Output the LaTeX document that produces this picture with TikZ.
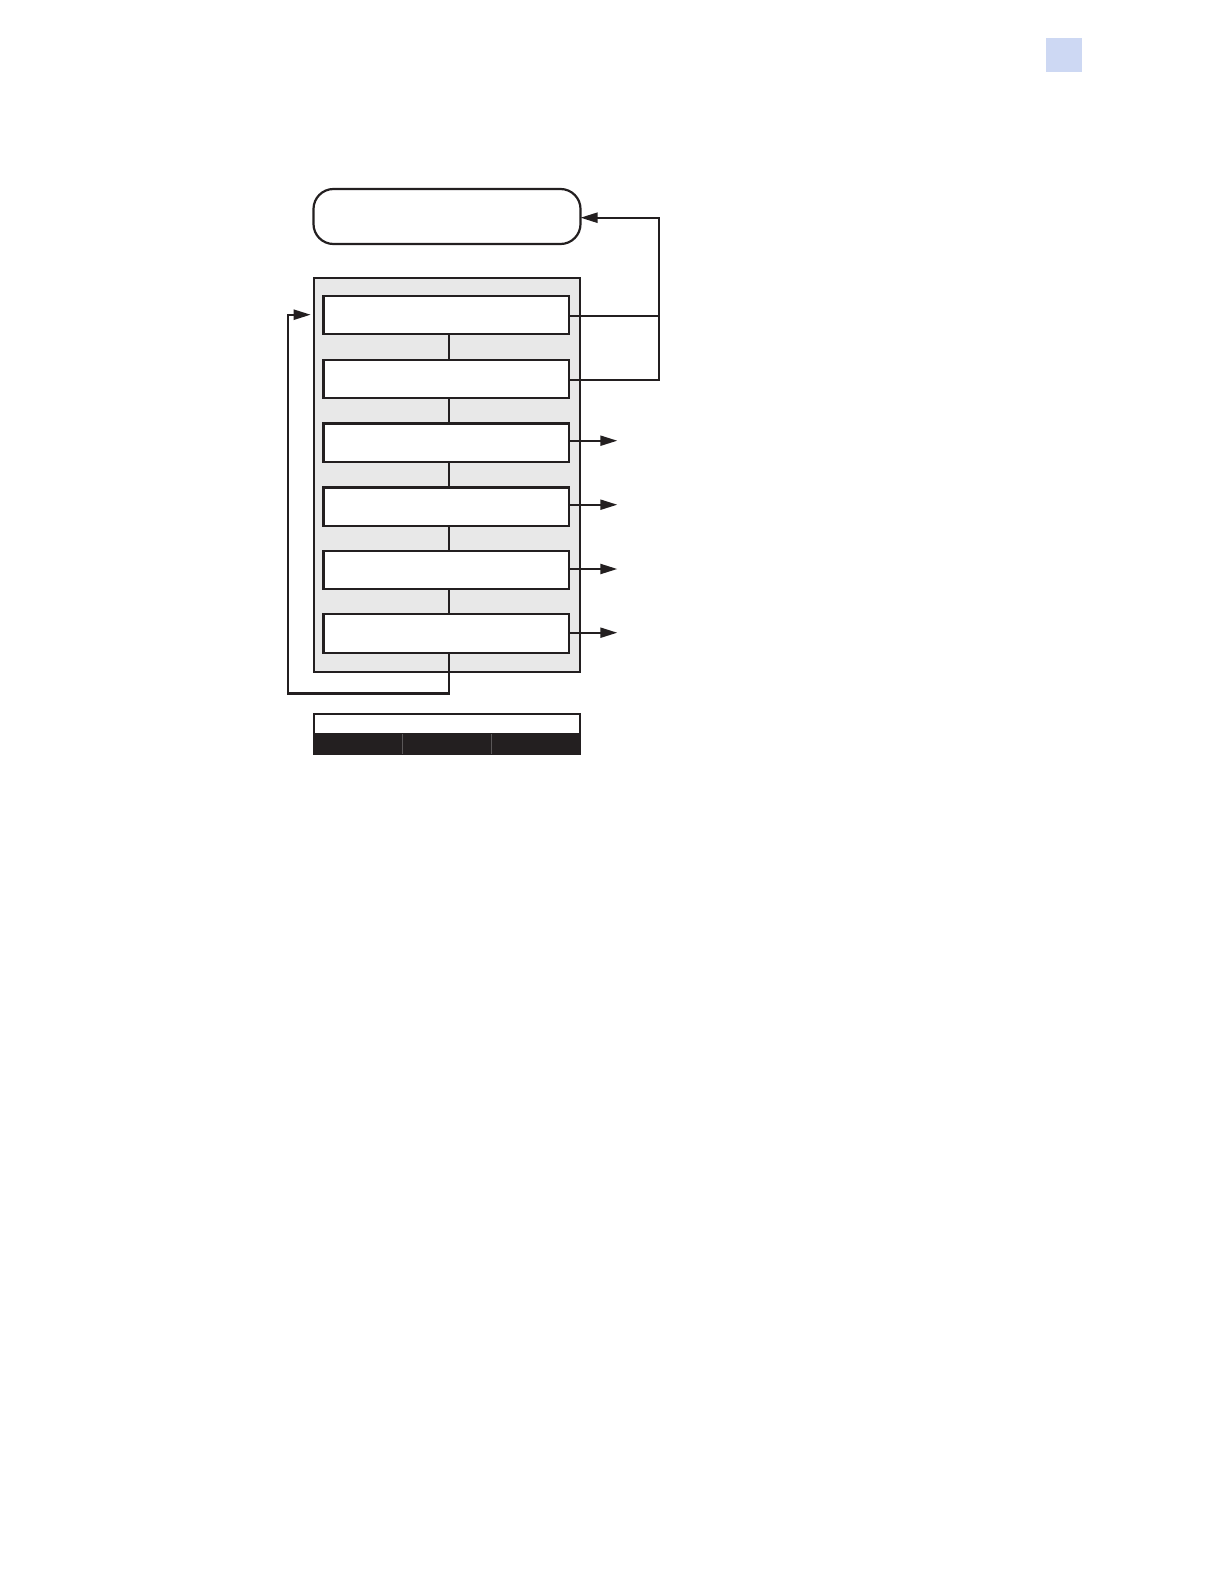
\documentclass[tikz,border=0pt]{standalone}
\usetikzlibrary{arrows.meta}
\definecolor{lineblk}{HTML}{231F20}
\definecolor{panelgray}{HTML}{E8E8E8}
\definecolor{tabblue}{HTML}{CDD8F3}
\begin{document}
\begin{tikzpicture}[x=1bp,y=-1bp,
  line width=2.2bp,
  every node/.style={inner sep=0pt,outer sep=0pt},
  stepbox/.style={draw=lineblk,fill=white,minimum width=245.8bp,minimum height=38.5bp},
  conn/.style={draw=lineblk,line width=2.2bp},
  arr/.style={conn,-{Triangle[length=17bp,width=10bp]}}
]
\useasboundingbox (0,0) rectangle (1224,1584);
\fill[white] (0,0) rectangle (1224,1584);
% page tab
\node[fill=tabblue,minimum width=36bp,minimum height=34bp] (tab) at (1064,55) {};
% rounded top box
\node[draw=lineblk,fill=white,rounded corners=20bp,minimum width=267bp,minimum height=55bp] (top) at (447,216.5) {};
% gray panel
\node[draw=lineblk,fill=panelgray,minimum width=266bp,minimum height=393.7bp] (panel) at (447,475.2) {};
% step boxes
\node[stepbox] (s1) at (446.4,315) {};
\node[stepbox] (s2) at (446.4,379) {};
\node[stepbox] (s3) at (446.4,442.8) {};
\node[stepbox] (s4) at (446.4,506.7) {};
\node[stepbox] (s5) at (446.4,570) {};
\node[stepbox] (s6) at (446.4,633.5) {};
% vertical links
\coordinate (lx) at (449,0);
\draw[conn] (s1.south -| lx) -- (s2.north -| lx);
\draw[conn] (s2.south -| lx) -- (s3.north -| lx);
\draw[conn] (s3.south -| lx) -- (s4.north -| lx);
\draw[conn] (s4.south -| lx) -- (s5.north -| lx);
\draw[conn] (s5.south -| lx) -- (s6.north -| lx);
% feedback to top box
\coordinate (jr) at (659,379.7);
\draw[conn] (s1.east |- 0,315.7) -- (jr |- 0,315.7);
\draw[arr] (s2.east |- jr) -- (jr) -- (jr |- 0,217.7) -- (top.east |- 0,217.7);
% output arrows
\coordinate (ox) at (617.3,0);
\draw[arr] (s3.east |- 0,440.7) -- (ox |- 0,440.7);
\draw[arr] (s4.east |- 0,504.7) -- (ox |- 0,504.7);
\draw[arr] (s5.east |- 0,569) -- (ox |- 0,569);
\draw[arr] (s6.east |- 0,632.7) -- (ox |- 0,632.7);
% loop back
\coordinate (lb) at (288.3,693.5);
\coordinate (lt) at (288.3,314.7);
\coordinate (ltip) at (310.7,314.7);
\draw[arr] (s6.south -| lx) -- (lb -| lx) -- (lb) -- (lt) -- (ltip);
% bottom bar
\node[draw=lineblk,fill=white,minimum width=266bp,minimum height=20bp,anchor=north west] (bar) at (314,714) {};
\node[draw=lineblk,fill=lineblk,minimum width=88.7bp,minimum height=20.5bp,anchor=north west] (b1) at (314,733.8) {};
\node[draw=lineblk,fill=lineblk,minimum width=89bp,minimum height=20.5bp,anchor=north west] (b2) at (402.7,733.8) {};
\node[draw=lineblk,fill=lineblk,minimum width=88.3bp,minimum height=20.5bp,anchor=north west] (b3) at (491.7,733.8) {};
\draw[draw=white!25!lineblk,line width=0.8bp] (b1.north east) -- (b1.south east);
\draw[draw=white!25!lineblk,line width=0.8bp] (b2.north east) -- (b2.south east);
\end{tikzpicture}
\end{document}
